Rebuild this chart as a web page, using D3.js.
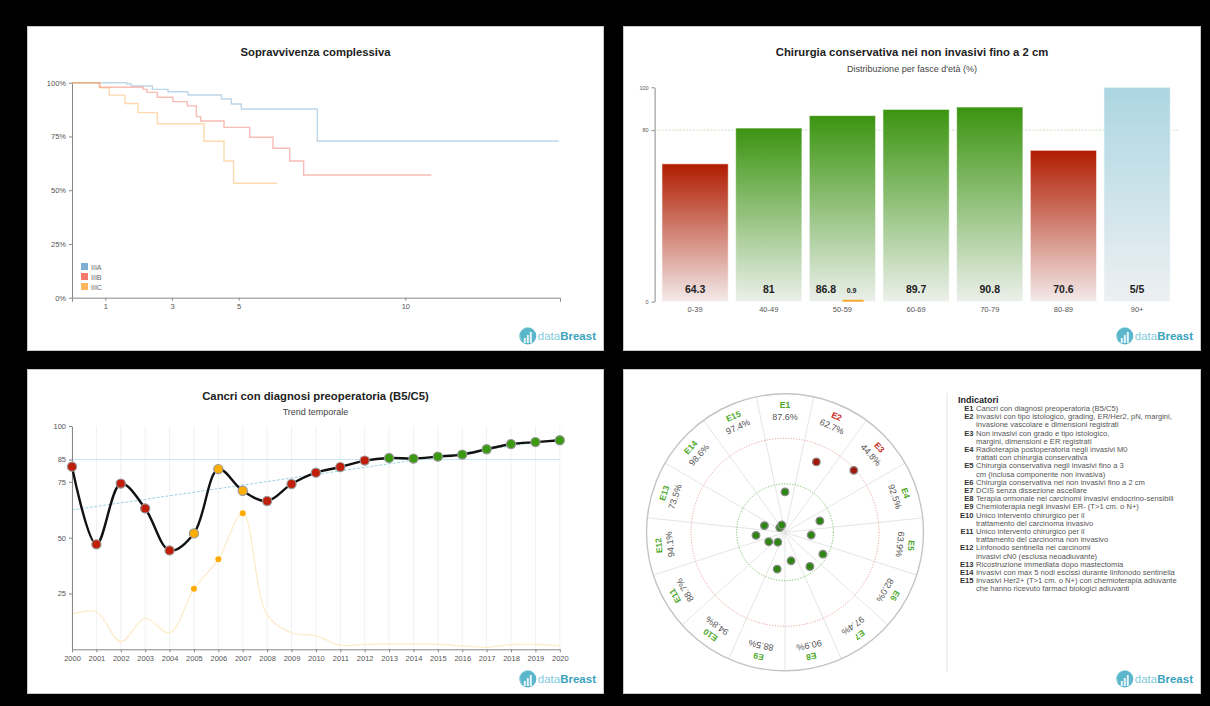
<!DOCTYPE html>
<html><head><meta charset="utf-8">
<script src="https://cdn.jsdelivr.net/npm/d3@7"></script>
<style>
html,body{margin:0;padding:0;background:#000;overflow:hidden;}
svg{display:block;font-family:"Liberation Sans",Arial,sans-serif;}
</style></head><body>
<svg id="c" width="1210" height="706"></svg>
<script>
// ---------------- DATA ----------------
// Panel 1: overall survival (Kaplan-Meier steps: [years, %])
const survivalGroups = ["IIIA", "IIIB", "IIIC"];
const survivalColors = ["#7eaed3", "#f47a6e", "#fdb55e"];
const survIIIA = [[0,100],[1.64,99.4],[1.78,98.5],[2.41,96.9],[2.88,95.8],[3.48,94.3],[4.48,92.4],[4.78,90.1],[5.08,87.8],[7.36,72.9],[14.6,72.9]];
const survIIIB = [[0,100],[0.82,97.9],[2.13,96.9],[2.25,95.5],[2.56,93.2],[3.03,91.2],[3.46,89.2],[3.73,84.2],[3.86,82.2],[4.56,79.2],[5.33,74.6],[6.03,69.5],[6.53,63.6],[6.95,57.1],[10.78,57.1]];
const survIIIC = [[0,100],[0.85,97.6],[1.12,94.2],[1.59,90.3],[1.98,86.1],[2.56,80.9],[3.96,72.8],[4.56,63.6],[4.85,53.2],[6.15,53.2]];
const survXTicks = [1, 3, 5, 10];
const survYTicks = [0, 25, 50, 75, 100];

// Panel 2: bar chart by age band
const ageBands = ["0-39","40-49","50-59","60-69","70-79","80-89","90+"];
const ageValues = [64.3, 81, 86.8, 89.7, 90.8, 70.6, 100];
const ageLabels = ["64.3","81","86.8","89.7","90.8","70.6","5/5"];
const ageStatus = ["red","green","green","green","green","red","blue"];
const ageSubValues = [null, null, 0.9, null, null, null, null];
const ageTarget = 80;
const ageYTicks = [0, 80, 100];

// Panel 3: trend over time
const years = [2000,2001,2002,2003,2004,2005,2006,2007,2008,2009,2010,2011,2012,2013,2014,2015,2016,2017,2018,2019,2020];
const trendValues = [81.8,47.0,74.2,63.1,44.3,51.9,80.7,71.0,66.4,74.0,79.1,81.6,84.5,85.7,85.4,86.3,87.2,89.6,91.9,92.8,93.6];
const trendStatus = ["red","red","red","red","red","orange","orange","orange","red","red","red","red","red","green","green","green","green","green","green","green","green"];
const secondaryValues = [15.7,16.8,3.4,13.9,7.4,27.1,40.3,60.9,15.4,7.4,6.1,1.8,2.2,2.4,2.4,2.2,1.5,0.9,2.1,2.2,1.5];
const regressionEnds = [62.4, 94.2];
const trendTarget = 85;
const trendYTicks = [25, 50, 75, 85, 100];

// Panel 4: indicators polar chart
const indicatorNames = ["E1","E2","E3","E4","E5","E6","E7","E8","E9","E10","E11","E12","E13","E14","E15"];
const indicatorValues = ["87.6%","62.7%","44.8%","92.5%","63.9%","82.0%","97.4%","90.9%","88.5%","94.8%","88.7%","94.1%","73.5%","98.6%","97.4%"];
const indicatorStatus = ["green","red","red","green","green","green","green","green","green","green","green","green","green","green","green"];
const indicatorGap = [0.86,1.64,1.97,0.78,0.56,0.93,0.90,0.62,0.80,0.26,0.40,0.62,0.46,0.15,0.17];
const gapDesired = 1.03, gapMinimum = 2.0;
const legendLines = [
  ["E1","Cancri con diagnosi preoperatoria (B5/C5)"],
  ["E2","Invasivi con tipo istologico, grading, ER/Her2, pN, margini,"],
  ["","invasione vascolare e dimensioni registrati"],
  ["E3","Non invasivi con grado e tipo istologico,"],
  ["","margini, dimensioni e ER registrati"],
  ["E4","Radioterapia postoperatoria negli invasivi M0"],
  ["","trattati con chirurgia conservativa"],
  ["E5","Chirurgia conservativa negli invasivi fino a 3"],
  ["","cm (inclusa componente non invasiva)"],
  ["E6","Chirurgia conservativa nei non invasivi fino a 2 cm"],
  ["E7","DCIS senza dissezione ascellare"],
  ["E8","Terapia ormonale nei carcinomi invasivi endocrino-sensibili"],
  ["E9","Chemioterapia negli invasivi ER- (T>1 cm. o N+)"],
  ["E10","Unico intervento chirurgico per il"],
  ["","trattamento del carcinoma invasivo"],
  ["E11","Unico intervento chirurgico per il"],
  ["","trattamento del carcinoma non invasivo"],
  ["E12","Linfonodo sentinella nei carcinomi"],
  ["","invasivi cN0 (esclusa neoadiuvante)"],
  ["E13","Ricostruzione immediata dopo mastectomia"],
  ["E14","Invasivi con max 5 nodi escissi durante linfonodo sentinella"],
  ["E15","Invasivi Her2+ (T>1 cm. o N+) con chemioterapia adiuvante"],
  ["","che hanno ricevuto farmaci biologici adiuvanti"]
];

// ---------------- LAYOUT ----------------
const svg = d3.select("#c");
svg.append("rect").attr("width",1210).attr("height",706).attr("fill","#000");
const panels = [
  {x:27, y:26, w:577, h:325},
  {x:623, y:26, w:578, h:325},
  {x:27, y:369, w:577, h:325},
  {x:623, y:369, w:578, h:325}
];
panels.forEach(p => {
  svg.append("rect").attr("x",p.x+0.5).attr("y",p.y+0.5).attr("width",p.w-1).attr("height",p.h-1)
    .attr("fill","#fff").attr("stroke","#c8c8c8").attr("stroke-width",1);
});

function title(p, txt, y){
  svg.append("text").attr("x",p.x+p.w/2).attr("y",y).attr("text-anchor","middle")
    .attr("font-size","11.3px").attr("font-weight","bold").attr("fill","#222").text(txt);
}
function subtitle(p, txt, y){
  svg.append("text").attr("x",p.x+p.w/2).attr("y",y).attr("text-anchor","middle")
    .attr("font-size","9px").attr("fill","#444").text(txt);
}
function logo(p){
  const bx = p.x + p.w - 8, by = p.y + p.h - 11;
  const t = svg.append("text").attr("x",bx).attr("y",by).attr("text-anchor","end").attr("font-size","11.5px");
  t.append("tspan").attr("fill","#7fcadb").text("data");
  t.append("tspan").attr("fill","#3aa3bd").attr("font-weight","bold").text("Breast");
  const w = t.node().getComputedTextLength();
  const cx = bx - w - 10, cy = by - 4;
  const g = svg.append("g").attr("transform",`translate(${cx},${cy})`);
  g.append("circle").attr("r",8.5).attr("fill","#5ab6ca");
  g.append("path").attr("d","M-8,2 A8.5,8.5 0 0,1 6,-6 A7,7 0 0,0 -6,4 Z").attr("fill","#9fdbe6");
  [[-4,2,2],[-1,-1,2],[2,-4,2]].forEach(b=>{
    g.append("rect").attr("x",b[0]).attr("y",b[1]).attr("width",b[2]).attr("height",7-b[1]).attr("fill","#fff").attr("opacity",0.85);
  });
}
function styleAxis(g, fs){
  g.selectAll("path.domain").attr("stroke","#888");
  g.selectAll(".tick line").attr("stroke","#888");
  g.selectAll(".tick text").attr("fill","#555").attr("font-size",fs).attr("font-family","Liberation Sans, Arial, sans-serif");
}

// ---------------- PANEL 1: survival ----------------
(function(){
  const p = panels[0];
  title(p, "Sopravvivenza complessiva", 56);
  const x = d3.scaleLinear().domain([0, 14.64]).range([72, 560]);
  const y = d3.scaleLinear().domain([0, 100]).range([297.7, 82.7]);
  const gy = svg.append("g").attr("transform","translate(72,0)")
    .call(d3.axisLeft(y).tickValues(survYTicks).tickSize(3).tickSizeOuter(0).tickFormat(d=>d+"%"));
  styleAxis(gy, "7.5px");
  const gx = svg.append("g").attr("transform","translate(0,297.7)")
    .call(d3.axisBottom(x).tickValues(survXTicks).tickSize(3).tickSizeOuter(4));
  styleAxis(gx, "7.5px");
  const line = d3.line().x(d=>x(d[0])).y(d=>y(d[1])).curve(d3.curveStepAfter);
  [survIIIA, survIIIB, survIIIC].forEach((s,i)=>{
    svg.append("path").datum(s).attr("d",line).attr("fill","none")
      .attr("stroke",survivalColors[i]).attr("stroke-opacity",0.5).attr("stroke-width",1.4);
  });
  survivalGroups.forEach((gname,i)=>{
    svg.append("rect").attr("x",81).attr("y",263+i*10).attr("width",7).attr("height",7).attr("fill",survivalColors[i]);
    svg.append("text").attr("x",91).attr("y",269.5+i*10).attr("font-size","7px").attr("fill","#666").text(gname);
  });
  logo(p);
})();

// ---------------- PANEL 2: bars ----------------
(function(){
  const p = panels[1];
  title(p, "Chirurgia conservativa nei non invasivi fino a 2 cm", 56);
  subtitle(p, "Distribuzione per fasce d'età (%)", 71.5);
  const x = d3.scaleBand().domain(ageBands).range([654.6, 1177.6]).paddingInner(0.1).paddingOuter(0.1);
  const y = d3.scaleLinear().domain([0,100]).range([301.7, 87.3]);
  const defs = svg.append("defs");
  const grads = {red:["#b01c00","#f3eaea"], green:["#3b9410","#ecf0eb"], blue:["#acd6e2","#edf0f2"]};
  Object.keys(grads).forEach(k=>{
    const lg = defs.append("linearGradient").attr("id","g-"+k).attr("x1",0).attr("y1",0).attr("x2",0).attr("y2",1);
    lg.append("stop").attr("offset","0%").attr("stop-color",grads[k][0]);
    lg.append("stop").attr("offset","100%").attr("stop-color",grads[k][1]);
  });
  svg.append("line").attr("x1",654.6).attr("x2",1177.6).attr("y1",y(ageTarget)).attr("y2",y(ageTarget))
    .attr("stroke","#b9d9ae").attr("stroke-width",0.8).attr("stroke-dasharray","2,1.5");
  svg.selectAll(".bar").data(ageBands).enter().append("rect")
    .attr("x",d=>x(d)).attr("width",x.bandwidth())
    .attr("y",(d,i)=>y(ageValues[i])).attr("height",(d,i)=>y(0)-y(ageValues[i]))
    .attr("fill",(d,i)=>`url(#g-${ageStatus[i]})`)
    .attr("stroke","#fff").attr("stroke-opacity",0.6).attr("stroke-width",1);
  ageBands.forEach((d,i)=>{
    const bw = x.bandwidth();
    const hasSub = ageSubValues[i] !== null;
    const lx = hasSub ? x(d) + bw*0.25 : x(d) + bw/2;
    svg.append("text").attr("x",lx).attr("y",293).attr("text-anchor","middle")
      .attr("font-size","10.5px").attr("font-weight","bold").attr("fill","#222").text(ageLabels[i]);
    if (hasSub){
      const sx0 = x(d) + bw*0.5, sx1 = x(d) + bw*0.82;
      svg.append("rect").attr("x",sx0).attr("width",sx1-sx0)
        .attr("y",y(ageSubValues[i])).attr("height",y(0)-y(ageSubValues[i]))
        .attr("fill","#f6a828");
      svg.append("text").attr("x",(sx0+sx1)/2-1.5).attr("y",292.5).attr("text-anchor","middle")
        .attr("font-size","7px").attr("font-weight","bold").attr("fill","#222").text(ageSubValues[i]);
    }
    svg.append("text").attr("x",x(d)+bw/2).attr("y",312).attr("text-anchor","middle")
      .attr("font-size","7.5px").attr("fill","#555").text(d);
  });
  const gy = svg.append("g").attr("transform","translate(654.6,0)")
    .call(d3.axisLeft(y).tickValues(ageYTicks).tickSize(3).tickSizeOuter(0));
  styleAxis(gy, "5.5px");
  logo(p);
})();

// ---------------- PANEL 3: trend ----------------
(function(){
  const p = panels[2];
  title(p, "Cancri con diagnosi preoperatoria (B5/C5)", 400);
  subtitle(p, "Trend temporale", 415);
  const x = d3.scaleLinear().domain([years[0], years[years.length-1]]).range([72, 559.8]);
  const y = d3.scaleLinear().domain([0,100]).range([649.3, 426]);
  years.forEach(yr=>{
    svg.append("line").attr("x1",x(yr)).attr("x2",x(yr)).attr("y1",426).attr("y2",649.3)
      .attr("stroke","#f1f1f1").attr("stroke-width",1);
  });
  svg.append("line").attr("x1",72).attr("x2",559.8).attr("y1",y(trendTarget)).attr("y2",y(trendTarget))
    .attr("stroke","#c4e7ef").attr("stroke-width",1);
  svg.append("line").attr("x1",x(years[0])).attr("x2",x(years[years.length-1]))
    .attr("y1",y(regressionEnds[0])).attr("y2",y(regressionEnds[1]))
    .attr("stroke","#9fd3e2").attr("stroke-width",1).attr("stroke-dasharray","3,1.5");
  const secLine = d3.line().x((d,i)=>x(years[i])).y(d=>y(d)).curve(d3.curveCatmullRom);
  svg.append("path").datum(secondaryValues).attr("d",secLine).attr("fill","none")
    .attr("stroke","#fcebc6").attr("stroke-width",1.2);
  secondaryValues.forEach((v,i)=>{
    if (trendStatus[i]==="orange")
      svg.append("circle").attr("cx",x(years[i])).attr("cy",y(v)).attr("r",3).attr("fill","#ffab00");
  });
  const gy = svg.append("g").attr("transform","translate(72,0)")
    .call(d3.axisLeft(y).tickValues(trendYTicks).tickSize(3).tickSizeOuter(0));
  styleAxis(gy, "7.5px");
  const gx = svg.append("g").attr("transform","translate(0,649.3)")
    .call(d3.axisBottom(x).tickValues(years).tickSize(3).tickSizeOuter(0).tickFormat(d3.format("d")));
  styleAxis(gx, "7.5px");
  const mainLine = d3.line().x((d,i)=>x(years[i])).y(d=>y(d)).curve(d3.curveCatmullRom);
  svg.append("path").datum(trendValues).attr("d",mainLine).attr("fill","none")
    .attr("stroke","#111").attr("stroke-width",2.4);
  const col = {red:"#bf1f0b", orange:"#ffae00", green:"#3b9a12"};
  trendValues.forEach((v,i)=>{
    svg.append("circle").attr("cx",x(years[i])).attr("cy",y(v)).attr("r",4.6)
      .attr("fill",col[trendStatus[i]]).attr("stroke","#999").attr("stroke-width",1.2);
  });
  logo(p);
})();

// ---------------- PANEL 4: polar ----------------
(function(){
  const p = panels[3];
  const cx = 785, cy = 532.3, R = 138.5;
  const n = indicatorNames.length, step = 360/n;
  const r = d3.scaleLinear().domain([0, gapMinimum]).range([0, 94]);
  const g = svg.append("g").attr("transform",`translate(${cx},${cy})`);
  const rad = a => a*Math.PI/180;
  for (let k=0;k<n;k++){
    const a = rad(step/2 + k*step);
    g.append("line").attr("x1",0).attr("y1",0).attr("x2",Math.sin(a)*R).attr("y2",-Math.cos(a)*R)
      .attr("stroke","#dedede").attr("stroke-width",0.8);
  }
  g.append("circle").attr("r",R).attr("fill","none").attr("stroke","#c4c4c4").attr("stroke-width",1.4);
  g.append("circle").attr("r",r(gapMinimum)).attr("fill","none").attr("stroke","#e99a92")
    .attr("stroke-width",0.9).attr("stroke-dasharray","1.2,1.5");
  g.append("circle").attr("r",r(gapDesired)).attr("fill","none").attr("stroke","#6dbb55")
    .attr("stroke-width",0.9).attr("stroke-dasharray","1.2,1.5");
  const lc = {green:"#4ea82a", red:"#c9281c"};
  const dc = {green:"#2d8512", red:"#a3150b"};
  indicatorNames.forEach((nm,i)=>{
    const ang = i*step;
    const lg = g.append("g").attr("transform",`rotate(${ang})`);
    lg.append("text").attr("x",0).attr("y",-124).attr("text-anchor","middle")
      .attr("font-size","8.5px").attr("font-weight","bold").attr("fill",lc[indicatorStatus[i]]).text(nm);
    lg.append("text").attr("x",0).attr("y",-112.5).attr("text-anchor","middle")
      .attr("font-size","9px").attr("fill","#555").text(indicatorValues[i]);
  });
  indicatorGap.forEach((gv,i)=>{
    const a = rad(i*step);
    g.append("circle").attr("cx",Math.sin(a)*r(gv)).attr("cy",-Math.cos(a)*r(gv)).attr("r",3.8)
      .attr("fill",dc[indicatorStatus[i]]).attr("stroke","#8a8a8a").attr("stroke-width",1.3);
  });
  svg.append("line").attr("x1",947).attr("x2",947).attr("y1",393).attr("y2",672)
    .attr("stroke","#e3e3e3").attr("stroke-width",1);
  svg.append("text").attr("x",958).attr("y",403).attr("font-size","9px").attr("font-weight","bold")
    .attr("fill","#222").text("Indicatori");
  legendLines.forEach((ln,i)=>{
    const yy = 411 + i*8.2;
    if (ln[0]) svg.append("text").attr("x",973.5).attr("y",yy).attr("text-anchor","end")
      .attr("font-size","7.6px").attr("font-weight","bold").attr("fill","#333").text(ln[0]);
    svg.append("text").attr("x",976).attr("y",yy).attr("font-size","7.6px").attr("fill","#555").text(ln[1]);
  });
  logo(p);
})();
</script>
</body></html>
